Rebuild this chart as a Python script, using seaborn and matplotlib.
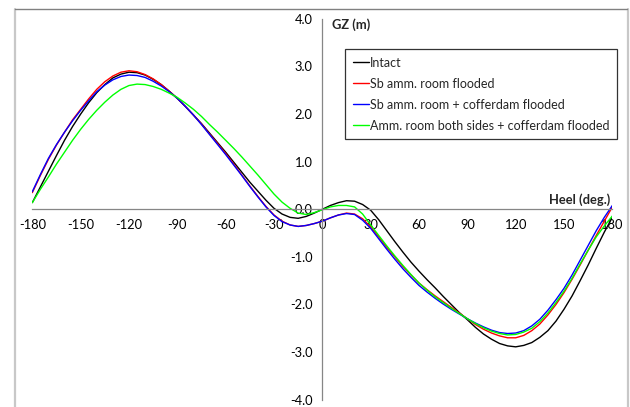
import numpy as np
import pandas as pd
import matplotlib
matplotlib.use("Agg")
import matplotlib.pyplot as plt
import seaborn as sns
from matplotlib.lines import Line2D

heel = list(range(-180, 181, 5))

intact = [0.14, 0.47, 0.80, 1.13, 1.45, 1.74, 2.00, 2.24, 2.45, 2.62, 2.76, 2.84, 2.88, 2.87, 2.82, 2.73,
          2.62, 2.48, 2.33, 2.16, 1.98, 1.80, 1.60, 1.40, 1.20, 0.99, 0.78, 0.57, 0.38, 0.19, 0.02, -0.10,
          -0.17, -0.19, -0.15, -0.08, 0.00, 0.08, 0.14, 0.18, 0.17, 0.10, -0.02, -0.22, -0.45, -0.68, -0.90,
          -1.11, -1.30, -1.48, -1.65, -1.83, -2.00, -2.17, -2.32, -2.48, -2.62, -2.73, -2.82, -2.87, -2.89,
          -2.86, -2.80, -2.69, -2.55, -2.35, -2.10, -1.82, -1.50, -1.17, -0.82, -0.48, -0.17]
sb_room = [0.35, 0.71, 1.05, 1.35, 1.62, 1.88, 2.10, 2.32, 2.52, 2.68, 2.80, 2.88, 2.91, 2.89, 2.83, 2.74,
           2.62, 2.48, 2.33, 2.16, 1.98, 1.79, 1.58, 1.38, 1.17, 0.95, 0.72, 0.49, 0.27, 0.06, -0.12, -0.25,
           -0.33, -0.36, -0.34, -0.30, -0.25, -0.18, -0.12, -0.08, -0.10, -0.20, -0.37, -0.58, -0.80, -1.00,
           -1.20, -1.38, -1.55, -1.69, -1.82, -1.94, -2.06, -2.18, -2.30, -2.42, -2.52, -2.60, -2.66, -2.70,
           -2.70, -2.65, -2.55, -2.41, -2.22, -2.00, -1.75, -1.47, -1.17, -0.86, -0.55, -0.25, 0.05]
sb_coffer = [0.37, 0.73, 1.07, 1.36, 1.62, 1.86, 2.08, 2.28, 2.47, 2.61, 2.72, 2.79, 2.82, 2.81, 2.77, 2.69,
             2.59, 2.47, 2.33, 2.16, 1.98, 1.78, 1.57, 1.36, 1.15, 0.93, 0.71, 0.48, 0.26, 0.05, -0.13, -0.26,
             -0.33, -0.36, -0.34, -0.30, -0.25, -0.18, -0.12, -0.09, -0.11, -0.23, -0.40, -0.62, -0.84, -1.05,
             -1.25, -1.43, -1.60, -1.74, -1.87, -1.99, -2.10, -2.20, -2.30, -2.39, -2.47, -2.54, -2.59, -2.61,
             -2.60, -2.55, -2.45, -2.31, -2.12, -1.90, -1.66, -1.38, -1.07, -0.76, -0.45, -0.17, 0.08]
both_sides = [0.14, 0.42, 0.68, 0.95, 1.20, 1.45, 1.68, 1.89, 2.08, 2.25, 2.40, 2.52, 2.60, 2.63, 2.62, 2.58,
              2.52, 2.44, 2.35, 2.23, 2.10, 1.95, 1.78, 1.62, 1.45, 1.28, 1.10, 0.91, 0.72, 0.52, 0.32, 0.15,
              0.02, -0.08, -0.11, -0.07, -0.01, 0.05, 0.08, 0.08, 0.05, -0.10, -0.33, -0.55, -0.77, -0.98,
              -1.18, -1.37, -1.55, -1.70, -1.84, -1.96, -2.08, -2.19, -2.30, -2.40, -2.49, -2.56, -2.61, -2.64,
              -2.63, -2.58, -2.50, -2.36, -2.18, -1.96, -1.72, -1.45, -1.15, -0.86, -0.58, -0.35, -0.14]

series_names = ["Intact", "Sb amm. room flooded", "Sb amm. room + cofferdam flooded",
                "Amm. room both sides + cofferdam flooded"]
colors = ["#000000", "#ff0000", "#0000ff", "#00ff00"]

x_ticks = list(range(-180, 181, 30))
y_ticks = [-4.0, -3.0, -2.0, -1.0, 0.0, 1.0, 2.0, 3.0, 4.0]

frames = []
for name, vals in zip(series_names, [intact, sb_room, sb_coffer, both_sides]):
    frames.append(pd.DataFrame({"Heel": heel, "GZ": vals, "Series": name}))
df = pd.concat(frames, ignore_index=True)

sns.set_style("white")
plt.rcParams["font.family"] = ["Lato", "DejaVu Sans"]

fig = plt.figure(figsize=(6.30, 4.07), dpi=100)
ax = fig.add_axes([0.0513, 0.018, 0.9207, 0.9356])

sns.lineplot(data=df, x="Heel", y="GZ", hue="Series", hue_order=series_names,
             palette=colors, linewidth=1.0, ax=ax, legend=False, sort=False)

ax.set_xlim(-180, 180)
ax.set_ylim(-4, 4)
ax.set_xticks(x_ticks)
ax.set_yticks(y_ticks)
ax.set_xticklabels([str(v) for v in x_ticks])
ax.set_yticklabels([f"{v:.1f}" for v in y_ticks])
ax.set_xlabel("")
ax.set_ylabel("")

gray = "#868686"
ax.spines["left"].set_position(("data", 0))
ax.spines["bottom"].set_position(("data", 0))
ax.spines["top"].set_visible(False)
ax.spines["right"].set_visible(False)
for s in ("left", "bottom"):
    ax.spines[s].set_color(gray)
    ax.spines[s].set_linewidth(0.9)
ax.tick_params(axis="both", which="both", direction="out", length=4, width=0.9,
               color=gray, labelsize=9.3, labelcolor="#000000")
ax.tick_params(axis="x", pad=3)
ax.tick_params(axis="y", pad=3)
ax.set_facecolor("none")

ax.text(6, 3.87, "GZ (m)", fontsize=9.3, fontweight="bold", ha="left", va="center")
ax.text(179, 0.2, "Heel (deg.)", fontsize=9.3, fontweight="bold", ha="right", va="center")

handles = [Line2D([0], [0], color=c, lw=1.0) for c in colors]
leg = ax.legend(handles, series_names, loc="upper right", bbox_to_anchor=(1.008, 0.921),
                fontsize=9.0, frameon=True, fancybox=False, handlelength=1.3, handletextpad=0.05,
                labelspacing=0.72, borderpad=0.62, borderaxespad=0)
leg.get_frame().set_edgecolor("#000000")
leg.get_frame().set_linewidth(0.9)

fig.add_artist(Line2D([14.5 / 630, 14.5 / 630], [0, 1 - 9 / 407], color="#c8c8c8", lw=1.6,
                      transform=fig.transFigure))
fig.add_artist(Line2D([627.5 / 630, 627.5 / 630], [0, 1 - 9 / 407], color="#c8c8c8", lw=1.6,
                      transform=fig.transFigure))
fig.add_artist(Line2D([15 / 630, 627 / 630], [1 - 9 / 407, 1 - 9 / 407], color="#808080", lw=1.0,
                      transform=fig.transFigure))

fig.savefig("out.png", dpi=100)
